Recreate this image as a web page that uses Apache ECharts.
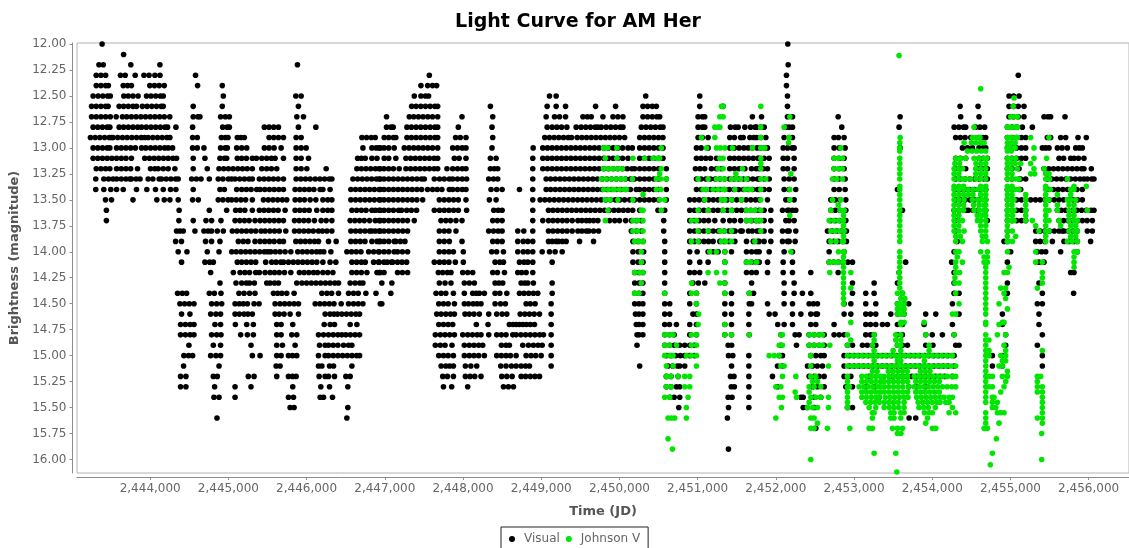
<!DOCTYPE html>
<html><head><meta charset="utf-8">
<style>html,body{margin:0;padding:0;background:#fff;overflow:hidden}#c{width:1129px;height:548px}</style>
<script src="https://cdn.jsdelivr.net/npm/echarts@6/dist/echarts.min.js"></script>
</head><body><div id="c"></div>
<script>
const title = "Light Curve for AM Her";
const xName = "Time (JD)";
const yName = "Brightness (magnitude)";
const jdBase = 2440000;
const xTicks = [2444000,2445000,2446000,2447000,2448000,2449000,2450000,2451000,2452000,2453000,2454000,2455000,2456000];
const yTicks = [12,12.25,12.5,12.75,13,13.25,13.5,13.75,14,14.25,14.5,14.75,15,15.25,15.5,15.75,16];

// Visual: one [magnitude, JD - jdBase list] per reported magnitude row
const visualMags = [12.0,12.1,12.2,12.3,12.4,12.5,12.6,12.7,12.8,12.9,13.0,13.1,13.2,13.3,13.4,13.5,13.6,13.7,13.8,13.9,14.0,14.1,14.2,14.3,14.4,14.5,14.6,14.7,14.8,14.9,15.0,15.1,15.2,15.3,15.4,15.5,15.6,15.7,15.9];
const visualTimes = [
[3385,12153],
[3660],
[3345,3400,3752,4124,5883,12158],
[3310,3370,3430,3620,3680,3808,3920,3985,4060,4125,4580,7569,12136,15100],
[3310,3370,3430,3465,3655,3710,3760,3995,4055,4115,4180,4606,4922,7462,7548,7610,7663,12136],
[3270,3335,3395,3455,3490,3663,3720,3780,3845,3953,4010,4070,4130,4167,4935,5862,5930,7377,7462,7520,7560,9106,9191,10336,11027,12149,14982,15040,15110],
[3250,3310,3370,3430,3462,3603,3660,3720,3780,3825,3900,3960,4020,4080,4140,4167,4550,4922,5895,7343,7400,7460,7520,7580,7640,7676,8350,9076,9191,9311,9695,9951,10301,10360,10420,10472,11027,11326,12149,14356,14586,14982,15040,15100,15173],
[3250,3310,3370,3430,3490,3565,3645,3700,3760,3820,3880,3940,4000,4060,4120,4180,4250,4550,4610,4636,4900,4960,5012,5875,5960,7022,7313,7370,7430,7490,7550,7610,7676,7987,8380,9063,9170,9234,9311,9533,9590,9640,9789,9917,9980,10045,10301,10360,10420,10480,10515,11006,11060,11091,11700,11817,12149,12213,12797,13589,14364,14598,14982,15040,15100,15173,15429,15480,15514,15698],
[3270,3330,3390,3450,3484,3603,3660,3720,3780,3840,3890,3950,4010,4070,4130,4190,4222,4329,4542,4927,4985,5012,5460,5520,5580,5640,5895,6118,7022,7080,7107,7283,7340,7400,7460,7520,7580,7640,7676,7940,8371,9076,9140,9200,9260,9328,9447,9510,9570,9630,9690,9725,9767,9830,9890,9950,10010,10045,10280,10340,10400,10460,10520,10557,11006,11060,11091,11420,11480,11518,11604,11677,11735,11754,11808,11851,12128,12170,12213,12843,13576,14280,14340,14400,14428,14556,14610,14670,14961,15020,15080,15152,15280],
[3236,3296,3356,3416,3476,3505,3525,3585,3645,3705,3765,3825,3885,3930,3974,4034,4094,4154,4214,4252,4542,4602,4910,4960,4995,5114,5160,5204,5520,5580,5640,5704,5866,5930,6707,6767,6827,6878,6992,7050,7110,7141,7283,7340,7400,7460,7520,7580,7640,7676,7905,7965,8038,8380,9045,9105,9165,9225,9285,9345,9388,9460,9520,9580,9640,9700,9760,9820,9880,9940,10000,10067,10259,10320,10380,10440,10500,10557,11006,11060,11134,11411,11470,11550,11583,11668,11720,11754,11808,11872,12106,12170,12213,12745,12800,12873,14300,14360,14420,14492,14598,14650,14684,14961,15020,15080,15140,15195,15472,15514,15642,15706,15864,15970],
[3270,3330,3390,3450,3484,3570,3630,3690,3750,3810,3890,3944,4004,4064,4124,4184,4230,4286,4542,4602,4687,4900,4960,4986,5106,5170,5234,5460,5520,5584,5674,5866,5930,5994,6720,6835,6890,6942,6928,6990,7050,7120,7249,7310,7370,7430,7490,7550,7610,7676,7868,7930,7990,8038,8371,8897,9020,9080,9140,9200,9260,9320,9380,9440,9500,9560,9620,9680,9740,9800,9860,9920,9980,10040,10110,10165,10259,10320,10380,10440,10500,10557,10985,11045,11134,11411,11470,11530,11590,11646,11700,11760,11808,11860,11893,12094,12150,12210,12234,12745,12810,12886,13589,14386,14450,14513,14598,14650,14684,14961,15020,15080,15140,15195,15408,15450,15493,15600,15660,15728,15834,15880,15919],
[3270,3330,3390,3450,3510,3570,3630,3690,3760,3930,3990,4050,4110,4170,4230,4290,4337,4550,4700,4892,4950,4978,5114,5170,5230,5306,5358,5427,5490,5550,5597,5704,5866,5930,6024,6652,6700,6750,6835,6900,6992,7050,7141,7270,7330,7390,7450,7510,7570,7630,7676,7889,7950,8038,8350,8423,8892,9020,9080,9140,9200,9260,9320,9380,9440,9500,9560,9620,9680,9740,9800,9860,9920,9980,10040,10110,10259,10320,10380,10440,10500,10557,10985,11045,11105,11165,11241,11411,11470,11530,11590,11650,11711,11770,11787,11850,11915,12094,12150,12234,12745,12810,12873,14300,14360,14428,14598,14650,14705,14961,15020,15080,15140,15195,15621,15680,15770,15813,15870,15940],
[3310,3370,3430,3484,3570,3630,3690,3750,3838,4004,4060,4102,4167,4230,4316,4550,4730,4880,4940,5000,5060,5120,5180,5240,5306,5427,5490,5550,5618,5866,5930,6003,6250,6643,6700,6760,6820,6880,6942,6928,6990,7050,7110,7184,7270,7330,7390,7450,7510,7570,7630,7676,7795,7868,7930,7990,8038,8350,8400,8444,8892,9020,9080,9140,9200,9260,9320,9380,9440,9500,9560,9620,9680,9740,9800,9860,9920,9980,10040,10100,10160,10195,10259,10320,10380,10440,10500,10600,10972,11030,11090,11177,11241,11300,11411,11470,11530,11604,11689,11750,11787,11840,11893,12094,12150,12234,12745,12810,12873,14300,14360,14428,14598,14650,14705,14961,15020,15110,15429,15490,15550,15610,15670,15730,15790,15850,15910,15940,16034],
[3304,3407,3467,3525,3570,3630,3690,3740,3760,3820,3870,3974,4034,4115,4145,4205,4265,4325,4358,4530,4590,4650,4756,4870,4930,5000,5042,5085,5145,5205,5265,5306,5396,5456,5516,5576,5636,5704,5866,5926,5986,6045,6110,6170,6230,6290,6323,6592,6652,6712,6772,6832,6892,6942,6928,6990,7050,7110,7170,7230,7290,7350,7410,7470,7505,7633,7700,7760,7825,7868,7930,7990,8046,8328,8390,8444,8892,9063,9120,9180,9240,9300,9360,9420,9480,9540,9600,9660,9720,9780,9840,9900,9960,10020,10080,10140,10195,10259,10320,10380,10440,10500,10600,10985,11045,11105,11165,11225,11285,11345,11405,11465,11525,11585,11645,11705,11765,11787,11850,11915,12106,12170,12234,12745,12810,12886,14300,14360,14420,14480,14540,14600,14660,14705,14961,15020,15110,15131,15195,15472,15530,15590,15650,15710,15770,15830,15890,15940,15983,16040,16068],
[3304,3407,3496,3570,3655,3825,3957,4068,4167,4260,4329,4550,4892,4948,5106,5170,5230,5290,5362,5405,5465,5525,5585,5645,5704,5853,5913,5973,6033,6093,6173,6208,6300,6566,6626,6686,6746,6806,6866,6942,6928,6990,7050,7110,7170,7230,7290,7350,7410,7470,7547,7611,7670,7730,7825,7868,7930,7990,8038,8358,8430,8500,8722,8892,9063,9120,9180,9240,9300,9360,9420,9480,9540,9600,9660,9720,9780,9840,9900,9960,10020,10080,10140,10216,10259,10320,10380,10440,10500,10600,10985,11045,11105,11165,11225,11285,11345,11405,11465,11525,11585,11645,11705,11765,11787,11850,11915,12106,12170,12255,12745,12810,12886,13555,14300,14360,14420,14480,14540,14600,14684,14961,15020,15110,15131,15493,15550,15610,15670,15730,15790,15850,15919],
[3428,3505,3780,4085,4180,4252,4358,4542,4615,4870,4930,4995,5042,5100,5160,5220,5306,5448,5510,5570,5630,5690,5746,5853,5913,5973,6045,6118,6208,6270,6323,6566,6626,6686,6746,6806,6866,6942,6928,6990,7050,7110,7170,7230,7290,7350,7410,7484,7697,7760,7820,7880,7940,8038,8337,8423,8892,8986,9046,9106,9166,9226,9286,9346,9406,9466,9526,9586,9646,9706,9766,9826,9886,9946,10006,10066,10131,10195,10259,10320,10380,10440,10500,10600,10899,10960,11020,11080,11140,11200,11260,11320,11380,11440,11500,11560,11620,11680,11740,11787,11893,12128,12170,12234,12703,12760,12820,12895,14300,14360,14420,14480,14540,14600,14684,14961,15020,15080,15140,15195,15259,15320,15380,15440,15500,15560,15620,15680,15740,15800,15860,15919],
[3440,4370,4756,4978,5093,5150,5210,5306,5396,5456,5516,5576,5636,5725,5853,5913,5973,6033,6130,6208,6270,6323,6579,6640,6700,6760,6835,6878,6942,6928,6990,7050,7110,7176,7214,7280,7340,7406,7633,7700,7760,7820,7880,7940,8046,8393,8450,8500,8892,9093,9150,9210,9270,9330,9390,9450,9510,9570,9630,9690,9750,9810,9870,9930,9990,10050,10110,10170,10259,10493,10579,10899,10960,11020,11080,11140,11200,11260,11320,11380,11440,11500,11560,11620,11680,11740,11787,11850,11936,12085,12149,12170,12213,12255,12703,12760,12820,12895,13619,14279,14340,14400,14460,14520,14580,14684,14428,14961,15020,15080,15140,15195,15600,15650,15706,15791,15850,15910,15970,16030,16068],
[3440,4367,4550,4713,4785,4905,5085,5145,5205,5265,5340,5405,5465,5525,5585,5645,5704,5845,5905,5965,6025,6100,6186,6250,6323,6557,6617,6677,6737,6805,6878,6942,6928,6990,7050,7110,7170,7230,7290,7377,7718,7780,7840,7910,7987,8380,8440,8500,8892,9020,9093,9150,9210,9270,9330,9396,9469,9520,9576,9618,9670,9725,9875,9940,10000,10079,10152,10220,10280,10566,10899,10960,11020,11080,11140,11220,11326,11411,11470,11550,11625,11690,11750,11787,11850,11936,12128,12170,12234,12703,12760,12820,12895,14300,14705,14961,15020,15080,15140,15195,15621,15680,15740,15800,15860,15920,15980,16047],
[4337,4380,4423,4572,4687,4740,4785,4858,4935,5050,5110,5170,5230,5290,5349,5418,5469,5530,5590,5650,5734,5845,5905,5965,6025,6085,6152,6203,6260,6323,6566,6626,6686,6746,6806,6835,6878,6942,6928,6990,7050,7110,7170,7230,7291,7697,7760,7820,7910,8328,8390,8450,8500,8700,8777,8892,9093,9150,9210,9270,9330,9396,9469,9520,9576,9610,9670,9733,10152,10220,10280,10566,10899,10960,11020,11080,11140,11200,11262,11284,11340,11400,11455,11480,11550,11570,11650,11700,11760,11787,11850,11936,12085,12149,12170,12255,12660,12720,12780,12840,12903,14300,14961,15323,15380,15440,15500,15560,15620,15664,15685,15740,15800,15855,15983,16047],
[4325,4400,4708,4785,4892,5127,5190,5250,5340,5405,5465,5525,5585,5653,5704,5862,5922,5982,6042,6102,6152,6280,6378,6566,6626,6686,6746,6835,6900,6942,6928,6990,7050,7120,7141,7200,7257,7697,7760,7825,7987,8380,8440,8500,8700,8770,8828,8892,9093,9140,9191,9221,9270,9319,9490,9669,10173,10240,10302,10579,10899,10960,11020,11080,11140,11198,11284,11340,11400,11476,11625,11711,11770,11787,11850,11936,12085,12149,12170,12247,12682,12740,12800,12860,12903,14320,14918,14961,15323,15380,15440,15536,15685,15750,15810,15855,16025],
[4358,4470,4730,4880,5042,5100,5160,5220,5280,5340,5400,5460,5503,5541,5600,5660,5725,5798,5887,5947,6007,6067,6127,6173,6220,6310,6515,6575,6635,6695,6793,6857,6920,6928,6990,7050,7120,7163,7225,7291,7697,7760,7820,7877,8004,8367,8430,8517,8700,8770,8828,8892,9012,9106,9178,9268,10173,10240,10310,10579,10899,10994,11134,11198,11262,11348,11433,11625,11690,11750,11787,11915,12106,12213,12682,12873,14279,15003,15344,15400,15451,15642,15855],
[4401,4700,4760,4807,5114,5170,5230,5290,5349,5477,5554,5610,5670,5704,5768,5830,5890,5950,6010,6070,6130,6208,6300,6374,6579,6640,6700,6750,6857,6920,6928,6990,7030,7085,7100,7163,7220,7279,7633,7700,7760,7820,7902,8004,8410,8470,8517,8722,8780,8828,8892,9140,10173,10240,10302,10579,10899,11027,11134,11348,11625,11690,11750,11787,11894,12094,12213,12682,12740,12800,12860,12920,12980,13660,14248,14961,15365,15429],
[4773,5063,5149,5210,5270,5349,5396,5469,5533,5590,5650,5717,5798,5908,5968,6028,6088,6139,6208,6270,6336,6579,6640,6700,6771,6900,6942,6928,6990,7163,7225,7291,7684,7740,7800,7846,7996,8060,8124,8380,8440,8530,8700,8750,8807,8892,10195,10250,10300,10579,10899,10960,11027,11625,11690,11750,11894,12094,12213,12447,12797,13576,14279,15770,15813],
[4892,5097,5170,5230,5270,5332,5490,5533,5590,5640,5874,5940,6000,6060,6120,6180,6240,6300,6360,6408,6557,6620,6680,6720,6962,7090,7697,7770,7846,8017,8080,8145,8410,8460,8508,8743,8790,8828,8900,9140,10195,10250,10300,10579,10940,11010,11092,11348,11690,12106,12234,12980,13257,13555,14279,14961,15365],
[4350,4410,4465,4756,4820,4905,5135,5200,5270,5340,5576,5630,5683,5746,5840,6195,6260,6320,6408,6536,6600,6660,6758,6887,7077,7655,7720,7780,7877,8017,8124,8170,8209,8273,8410,8470,8560,8722,8780,8840,8900,8956,9140,10195,10250,10300,10579,10900,10985,11348,11433,11660,11715,12106,12234,12340,12447,12980,13150,13257,13619,14279,14343,14961,15408,15808],
[4380,4440,4500,4560,4785,4850,4914,5085,5140,5190,5243,5328,5392,5597,5660,5720,5780,5840,5896,6110,6170,6230,6290,6350,6442,6536,6600,6660,6720,6942,6962,7690,7750,7810,7890,8017,8070,8130,8180,8230,8410,8480,8542,8807,8860,8922,9127,10195,10250,10300,10579,10643,10899,10985,11348,11433,11660,11690,11894,12106,12213,12426,12480,12532,12873,12959,13150,13278,13555,13640,13700,14258,15344,15408],
[4401,4508,4773,4840,4900,5085,5140,5200,5250,5306,5597,5650,5712,5789,5896,6237,6300,6350,6395,6450,6510,6570,6630,6677,7664,7720,7780,7840,7890,8025,8080,8140,8209,8329,8431,8500,8560,8731,8790,8850,8910,8978,9127,10205,10250,10300,10579,10643,10940,10985,11348,11433,11655,11915,11990,12213,12320,12447,12511,12532,12873,12959,13150,13210,13278,13470,13555,13640,13916,14045,14343,14897,15365],
[4388,4450,4510,4560,4828,4900,5089,5234,5319,5618,5674,5823,6225,6301,6357,6557,6643,7690,7750,7810,7868,8170,8320,8593,8640,8679,8720,8764,8810,8860,8914,9127,10216,10250,10300,10579,10640,10729,10899,10985,11348,11433,11655,12024,12106,12213,12447,12511,12745,13150,13210,13278,13363,13427,13555,13619,13896,14258,14897,15365],
[4388,4450,4510,4560,4785,4850,4905,5157,5243,5319,5618,5674,5810,5874,6152,6216,6280,6340,6400,6450,6502,6560,6620,6677,7646,7710,7770,7830,7890,7996,8060,8120,8180,8230,8329,8431,8490,8550,8636,8679,8740,8800,8860,8920,8980,9029,9127,10225,10250,10300,10579,10640,10700,10899,10985,11348,11433,11660,12064,12247,12298,12426,12490,12554,12618,12745,12810,12873,13150,13210,13257,13555,13619,13917,14000,14130,14279,14939,15408],
[4495,4807,4900,5289,5618,5691,5853,6165,6237,6280,6340,6400,6472,6536,6579,7646,7710,7770,7859,8017,8080,8140,8200,8252,8491,8550,8593,8764,8837,8900,8960,9012,9127,10225,10579,10640,10700,10771,10835,10899,10960,11390,11435,12064,12264,12426,12490,12554,12618,12916,12980,13108,13170,13235,13278,13555,13619,13683,13917,14009,14343,14300,14939,15344],
[4431,4490,4542,4773,4840,4900,5306,5405,5618,5674,5768,5820,5874,6152,6237,6280,6340,6400,6460,6520,6580,6640,6677,7690,7750,7810,7877,8017,8080,8140,8200,8273,8431,8490,8550,8606,8679,8807,8870,8930,8999,9127,10600,10660,10720,10780,10835,10899,10960,11395,11450,11655,12043,12085,12447,12511,12575,12618,12873,12940,13000,13060,13120,13180,13240,13300,13360,13420,13480,13540,13600,13660,13720,13780,13840,13900,13960,14020,14080,14140,14200,14279,14769,14897,15408],
[4427,4880,5610,5661,6152,6195,6293,6344,6579,7720,7780,7830,7877,8030,8100,8175,8482,8550,8619,8679,8743,8800,8850,9127,10259,10622,10680,10740,10771,10835,11434,11655,12021,12085,12405,12470,12530,12596,12873,12940,13000,13060,13120,13180,13240,13300,13360,13420,13480,13540,13600,13660,13720,13780,13840,13900,13960,14020,14080,14140,14200,14279,14769,14897,15408],
[4388,4457,4807,4858,5255,5328,5618,5768,5820,5866,6160,6237,6280,6357,6502,6557,7741,7800,7877,8030,8090,8150,8230,8495,8560,8628,8743,8800,8860,8920,8978,10600,10660,10750,11420,11465,11655,11957,12426,12490,12554,12618,12873,12959,13193,13491,13560,13620,13680,13740,13800,13860,13920,13980,14040,14100,14160,14258],
[4388,4457,4824,5085,5289,5823,6182,6293,6527,7750,7855,8060,8517,8580,8645,10600,10660,10729,10771,11430,11470,11655,12021,12469,12530,12618,12895,12980,13150,13257,13700,13800,13917],
[4815,4880,5085,5768,5832,6173,6216,6331,10643,10700,10771,11390,11440,11655,12320,12350,12490,12575,13321],
[5789,5840,6527,10759,11395,11655,12350,12400,12490,12916,12980],
[4854,6515,11381,13704,13789],
[12511],
[11394]
];

// Johnson V: one list of JD - jdBase per magnitude row
const johnsonMags = [12.11,12.43,12.52,12.6,12.7,12.8,12.9,12.95,13.0,13.03,13.1,13.15,13.2,13.25,13.3,13.37,13.4,13.45,13.5,13.55,13.6,13.65,13.7,13.75,13.8,13.85,13.9,14.0,14.05,14.1,14.15,14.2,14.25,14.3,14.35,14.4,14.45,14.5,14.55,14.6,14.68,14.7,14.8,14.85,14.9,14.95,15.0,15.05,15.1,15.15,15.2,15.25,15.3,15.35,15.4,15.45,15.5,15.55,15.6,15.65,15.7,15.75,15.8,15.9,15.94,16.0,16.05,16.12];
const johnsonTimes = [
[13576],
[14620],
[15046],
[11305,11326,11808,15035],
[11284,11326,12179,15003,15040,15089],
[11220,11262,11284,11808,12106,14535,14961,15010,15060,15089],
[11049,11220,11808,12170,13590,14513,14560,14610,14961,15010,15060,15089,15259,15493],
[12162,13585,14407,14500,14560,14620,14663,14961,15010,15060],
[9798,9850,9968,10536,11113,11241,11290,11348,11446,11702,11808,11860,12831,13585,14961,15010,15060,15301],
[13585,14450,14510,14570,14630,14684,14961,15010],
[9819,9968,10173,10323,10430,10490,10515,11284,11326,11808,12745,12800,12852,13585,14300,14360,14428,14535,14600,14660,14700,14961,15010,15067,15301,15463],
[11808,13585,14290,14350,14560,14620,14684,14961,15010,15060,15131,15259],
[9798,9860,9917,9980,10037,10536,11262,11326,11574,11808,12745,12800,12852,13585,14279,14340,14386,14556,14620,14684,14961,15010,15089,15301,15429],
[10515,11489,12192,13585,14279,14340,14556,14620,14684,14961,15020,15259,15310,15451,15493],
[9768,9830,9896,9960,10020,10067,10165,10472,10530,10600,11006,11134,11241,11300,11348,11433,11490,11550,11625,11808,11872,12724,12780,12852,13585,14279,14340,14386,14428,14490,14560,14620,14684,14961,15010,15067,15110,15451,15500,15728],
[13585,14279,14340,14400,14620,14684,14961,15020,15451,15813,15970],
[9798,9860,9917,9939,10000,10060,10088,10472,10530,11070,11113,11198,11260,11320,11348,11476,11604,11660,11689,11808,12179,13585,14279,14340,14400,14460,14520,14580,14640,14684,14961,15010,15060,15110,15451,15510,15770,15813],
[10302,13585,14279,14340,14400,14460,14520,14620,14684,14961,15020,15195,15451,15600,15770],
[9819,9880,9981,10173,10515,10579,11091,11305,11348,11433,11561,11808,12179,12724,12831,13585,14279,14340,14407,14513,14580,14640,14684,14961,15010,15046,15195,15451,15493,15728,15770,15834],
[12797,13585,14279,14340,14400,14530,14600,14660,14684,14961,15020,15195,15451,15600,15749,15813],
[9853,10280,10302,10536,11006,11134,11326,11433,11625,11680,11732,11808,12703,12822,12873,13585,14279,14340,14400,14535,14600,14660,14684,14961,15010,15046,15195,15451,15493,15600,15749,15813,15983],
[12179,12865,13585,14279,14340,14577,14630,14684,14961,15025,15195,15451,15749,15813],
[9819,10173,10230,10302,10921,10985,11625,11680,11754,11808,12682,12740,12800,12852,12865,13585,14279,14340,14386,14577,14620,14684,14961,15010,15046,15195,15280,15451,15493,15621,15749,15813,15855],
[12865,13585,14279,14340,14620,14684,14961,15323,15451,15642,15770,15834],
[10173,10230,10302,11006,11134,11284,11340,11433,11808,12703,12760,12820,12873,13585,14279,14340,14407,14620,14684,14961,15025,15365,15451,15493,15749,15813,15855],
[12865,13585,14300,14360,14641,14684,14961,15067,15451,15770,15834],
[10195,10250,10302,10921,11006,11305,11360,11433,11732,12703,12770,12852,12865,13585,14300,14386,14641,14705,14961,15025,15451,15728,15790,15855],
[10280,11155,11241,11348,12192,12800,12873,12865,13585,14300,14343,14620,14705,14961,15323,15813,15855],
[12865,13585,14320,14663,14705,15813],
[10280,11348,11625,11680,11754,12682,12740,12800,12865,13585,14300,14386,14663,14705,15323,15408,15813],
[12865,13585,14300,14684,14982,15813],
[10195,10260,10302,11134,11241,11348,12690,12865,12959,13576,14300,14350,14684,14918,14961,15408],
[12865,13585,14290,14684,15408],
[10280,10921,11284,11348,12865,13585,14290,14343,14684,15408],
[12865,12959,13585,14684,14876,14939,15344],
[10195,10250,10579,10921,10985,11348,11659,12865,13555,13620,14300,14684,14918],
[12865,13598,13650,14684,14939],
[10985,12865,13555,13585,13640,14343,14684,14854],
[13555,13598,13640,14684,14961],
[11014,13555,13598,13640,14258,14300,14684],
[12959,13598,13640,13896,14684,14897,14918],
[11006,11348,13598,14684,14854],
[10579,10640,10686,10921,10985,11348,11433,11659,12064,12085,12426,12490,12554,12596,12916,13257,13534,13598,13917,14279,14684,14833,14939],
[12958,13257,13534,13598,14684,14725],
[10579,10640,10729,10921,10985,12043,12085,12426,12490,12554,12596,12690,12916,13235,13555,13598,13960,14684,14918],
[13257,13500,13598,13960,14684,14726,14939,15408],
[10579,10640,10686,10857,10921,10985,11915,11980,12043,12447,12916,12980,13040,13100,13160,13220,13280,13340,13400,13460,13520,13580,13640,13700,13760,13820,13880,13940,14000,14060,14120,14180,14240,14258,14684,14726,14876,14939],
[13257,13555,13598,13900,14684,14897,14939],
[10600,10686,10985,12064,12106,12447,12673,12916,12980,13040,13100,13160,13220,13280,13340,13400,13460,13520,13580,13640,13700,13760,13820,13880,13940,14000,14060,14120,14180,14240,14300,14684,14854,14897],
[13235,13295,13440,13500,13560,13620,13680,13850,13910,13970,14684,14961],
[10600,10660,10750,10835,10899,12085,12256,12447,12511,12916,13100,13160,13220,13280,13340,13385,13445,13505,13565,13625,13685,13770,13830,13890,13950,14010,14070,14130,14190,14250,14300,14684,14726,14769,14897,14961,15344,15387],
[12469,12532,12916,13100,13160,13220,13280,13340,13385,13445,13505,13565,13625,13685,13790,13850,13910,13970,14030,14090,14684,14940,15344],
[10600,10660,10835,10899,12000,12064,12426,12490,12575,12916,12940,13065,13125,13185,13245,13305,13340,13385,13445,13505,13565,13625,13700,13770,13830,13890,13950,14010,14070,14130,14190,14250,14300,14684,14726,14769,14918,15344,15408],
[12247,12426,12916,13100,13160,13220,13280,13340,13385,13445,13505,13565,13625,13685,13790,13850,13910,13970,14030,14090,14684,14876,15344,15408],
[10579,10643,10878,12043,12085,12264,12447,12511,12575,12673,12916,13100,13160,13220,13280,13320,13400,13460,13520,13580,13640,13690,13800,13860,13920,13980,14040,14100,14150,14215,14258,14684,14769,14790,15408],
[12426,12916,13150,13210,13270,13321,13385,13445,13505,13565,13640,13820,13880,13940,14000,14060,14100,14173,14215,14684,14769,14833,15408],
[10856,12072,12405,12469,12532,12673,12916,13193,13278,13385,13450,13510,13570,13640,13830,13890,13950,14040,14258,14769,14812,15408],
[13235,13257,13470,13512,13598,13640,13900,13960,14002,14215,14300,14684,14833,14876,14918,15408],
[10622,10665,10707,10856,12000,12447,12490,13235,13470,13512,13598,13940,14684,15344,15408],
[12532,13917,14684,14854,15408],
[12447,12490,12660,12946,13193,13235,13491,13555,13620,14002,14045,14663,14705],
[13555,13600,15399],
[10622,14820],
[10678],
[13257,13534,14769],
[12447,15399],
[14743],
[13547]
];

const toPoints = (mags, times) => mags.flatMap((m, i) => times[i].map(t => [jdBase + t, m]));
const font = "'DejaVu Sans', sans-serif";
const chart = echarts.init(document.getElementById('c'), null, {renderer:'canvas'});
chart.setOption({
  animation:false,
  backgroundColor:'#fff',
  title:{text:title,left:573,textAlign:'center',top:8,textStyle:{fontFamily:font,fontWeight:'bold',fontSize:19,color:'#000'}},
  grid:{left:77,right:-1,top:43,height:430,show:true,borderColor:'#b4b4b4',borderWidth:1,backgroundColor:'#fff'},
  legend:{left:501,top:527,padding:[6,8,8,8],itemGap:6,itemWidth:14,itemHeight:6,borderColor:'#222',borderWidth:1,backgroundColor:'#fff',
    textStyle:{fontFamily:font,fontSize:12,color:'#666'},data:['Visual','Johnson V']},
  xAxis:{type:'value',min:2443064,max:2456516,offset:4,name:xName,nameLocation:'middle',nameGap:28,
    nameTextStyle:{fontFamily:font,fontWeight:'bold',fontSize:13,color:'#555'},
    splitLine:{show:false},
    axisLine:{show:true,onZero:false,lineStyle:{color:'#8c8c8c'}},
    axisTick:{show:true,length:3,customValues:xTicks,lineStyle:{color:'#8c8c8c'}},
    axisLabel:{show:true,margin:6,fontFamily:font,fontSize:12,color:'#666',customValues:xTicks,formatter:v=>Math.round(v).toLocaleString('en-US')}},
  yAxis:{type:'value',inverse:true,min:11.99,max:16.13,offset:4.5,name:yName,nameLocation:'middle',nameGap:44,
    nameTextStyle:{fontFamily:font,fontWeight:'bold',fontSize:13,color:'#555'},
    splitLine:{show:false},
    axisLine:{show:true,onZero:false,lineStyle:{color:'#8c8c8c'}},
    axisTick:{show:true,length:3,customValues:yTicks,lineStyle:{color:'#8c8c8c'}},
    axisLabel:{show:true,margin:6,fontFamily:font,fontSize:12,color:'#666',customValues:yTicks,formatter:v=>v.toFixed(2)}},
  series:[
    {name:'Visual',type:'scatter',symbol:'circle',symbolSize:5.6,progressive:0,silent:true,itemStyle:{color:'#000',opacity:1},data:toPoints(visualMags,visualTimes)},
    {name:'Johnson V',type:'scatter',symbol:'circle',symbolSize:5.6,progressive:0,silent:true,itemStyle:{color:'#00e600',opacity:1},data:toPoints(johnsonMags,johnsonTimes)}
  ]
});
</script></body></html>
